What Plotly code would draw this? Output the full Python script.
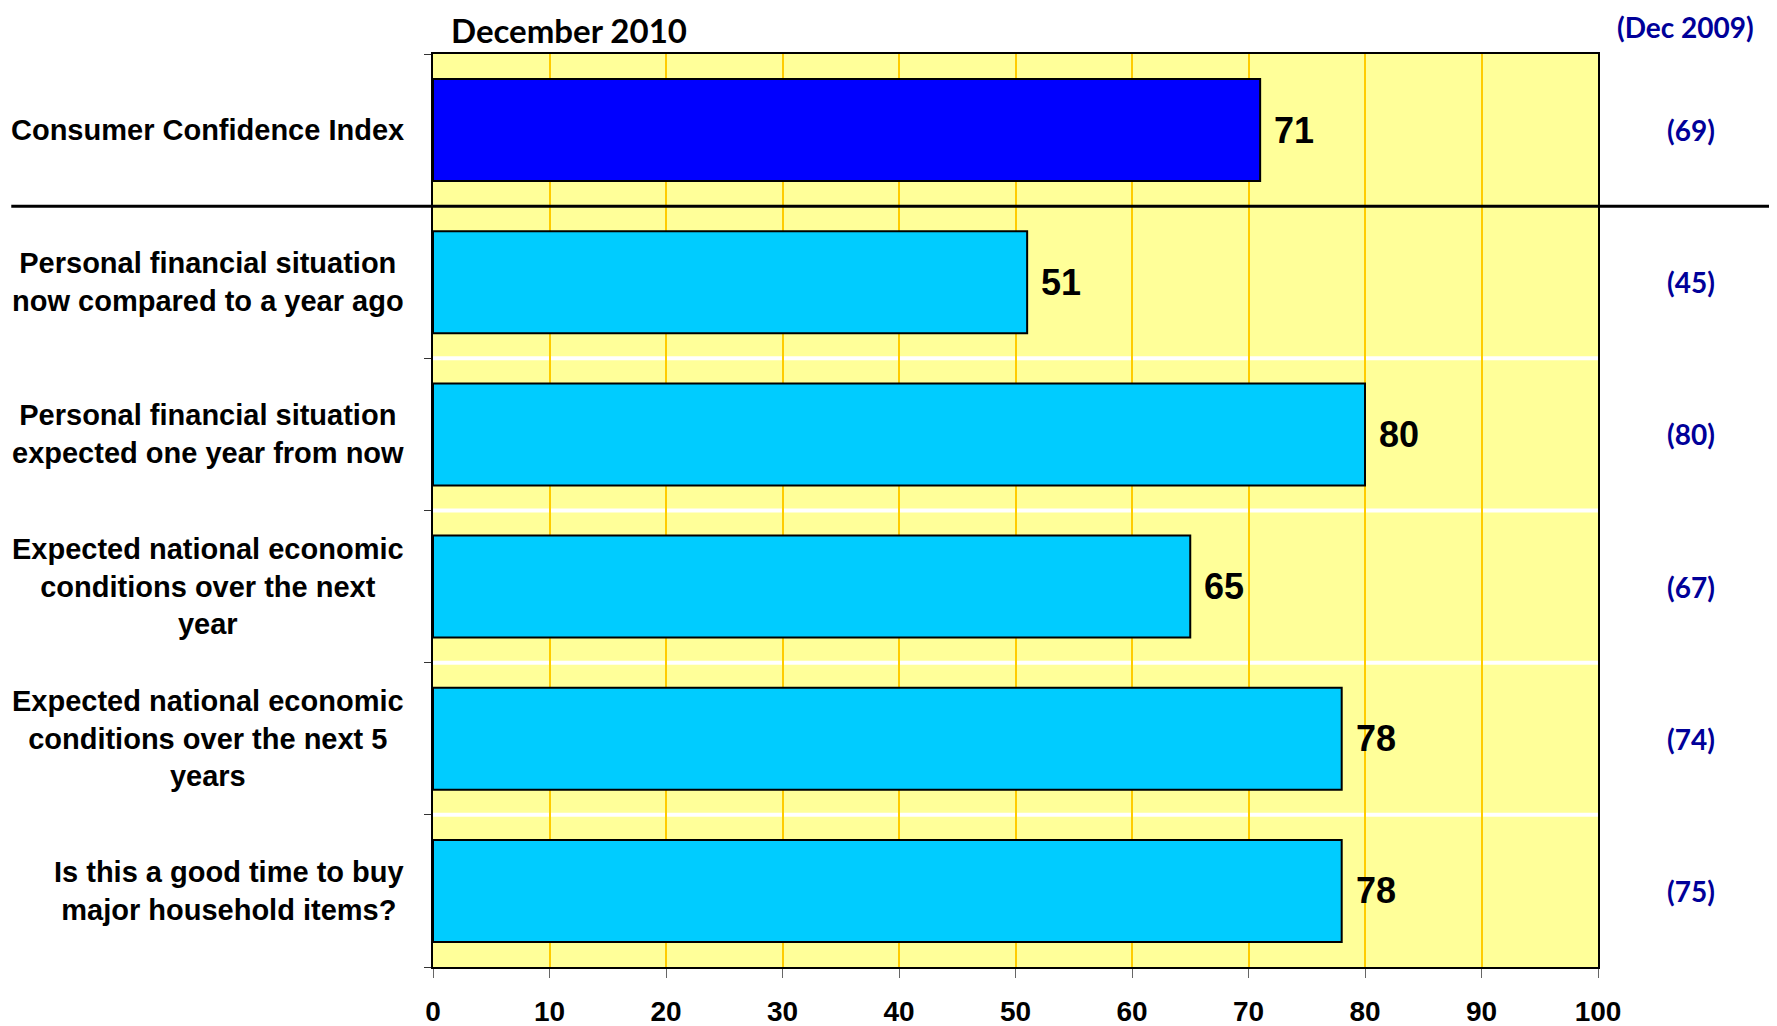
import plotly.graph_objects as go

categories = [
    "Consumer Confidence Index",
    "Personal financial situation<br>now compared to a year ago",
    "Personal financial situation<br>expected one year from now",
    "Expected national economic<br>conditions over the next<br>year",
    "Expected national economic<br>conditions over the next 5<br>years",
    "Is this a good time to buy<br>major household items?",
]
dec_2010 = [71, 51, 80, 65, 78, 78]
dec_2009 = [69, 45, 80, 67, 74, 75]
bar_colors = ["#0000FF", "#00CCFF", "#00CCFF", "#00CCFF", "#00CCFF", "#00CCFF"]
x_ticks = [0, 10, 20, 30, 40, 50, 60, 70, 80, 90, 100]

idx = list(range(len(categories)))

fig = go.Figure()
fig.add_trace(go.Bar(
    x=dec_2010, y=idx, orientation="h",
    marker=dict(color=bar_colors, line=dict(color="#000000", width=2)),
    hoverinfo="skip", showlegend=False,
))

ann = []
# category labels
for i, c in enumerate(categories):
    ann.append(dict(x=-0.0232, xref="paper", y=i, yref="y", text="<b>" + c + "</b>", showarrow=False,
                    xanchor="right", yanchor="middle", align="center",
                    font=dict(family="Liberation Sans, Arial, sans-serif", size=29, color="#000000")))
# value labels
for i, v in enumerate(dec_2010):
    ann.append(dict(x=v, xref="x", y=i, yref="y", text="<b>%d</b>" % v, showarrow=False,
                    xanchor="left", yanchor="middle", xshift=12,
                    font=dict(family="Liberation Sans, Arial, sans-serif", size=36, color="#000000")))
# previous year values
for i, v in enumerate(dec_2009):
    ann.append(dict(x=1.0798, xref="paper", y=i, yref="y", text="<b>(%d)</b>" % v, showarrow=False,
                    xanchor="center", yanchor="middle",
                    font=dict(family="Lato, Open Sans, sans-serif", size=28, color="#000099")))
ann.append(dict(x=0.0137, xref="paper", y=1.05, yref="paper", text="<b>December 2010</b>",
                showarrow=False, xanchor="left", yanchor="top",
                font=dict(family="Lato, Open Sans, sans-serif", size=33, color="#000000")))
ann.append(dict(x=1.0755, xref="paper", y=1.05, yref="paper", text="<b>(Dec 2009)</b>",
                showarrow=False, xanchor="center", yanchor="top",
                font=dict(family="Lato, Open Sans, sans-serif", size=28, color="#000099")))

shapes = []
for b in [1.5, 2.5, 3.5, 4.5]:
    shapes.append(dict(type="line", xref="paper", x0=0, x1=1, yref="y", y0=b, y1=b,
                       line=dict(color="#FFFFFF", width=4), layer="between"))
shapes.append(dict(type="line", xref="paper", x0=-0.362, x1=1.151, yref="y", y0=0.5, y1=0.5,
                   line=dict(color="#000000", width=3), layer="above"))

fig.update_layout(
    width=1769, height=1018,
    margin=dict(l=425, r=179, t=46, b=59, autoexpand=False),
    paper_bgcolor="#FFFFFF", plot_bgcolor="#FFFF99",
    bargap=0.33,
    annotations=ann, shapes=shapes,
    xaxis=dict(range=[0, 100], tickvals=x_ticks, ticktext=["<b>%d</b>" % t for t in x_ticks],
               automargin=False,
               showgrid=True, gridcolor="#FFCC00", gridwidth=2,
               showline=True, linecolor="#000000", linewidth=2, mirror=True,
               ticks="outside", ticklen=9, tickcolor="#666666", tickwidth=1,
               ticklabelstandoff=9, zeroline=False,
               tickfont=dict(family="Liberation Sans, Arial, sans-serif", size=28, color="#000000")),
    yaxis=dict(range=[5.5, -0.5], tickvals=[-0.5, 0.5, 1.5, 2.5, 3.5, 4.5, 5.5],
               automargin=False,
               showticklabels=False, ticks="outside", ticklen=7, tickcolor="#333333", tickwidth=1,
               showgrid=False, zeroline=False,
               showline=True, linecolor="#000000", linewidth=2, mirror=True),
)

fig.write_html("out.html")
